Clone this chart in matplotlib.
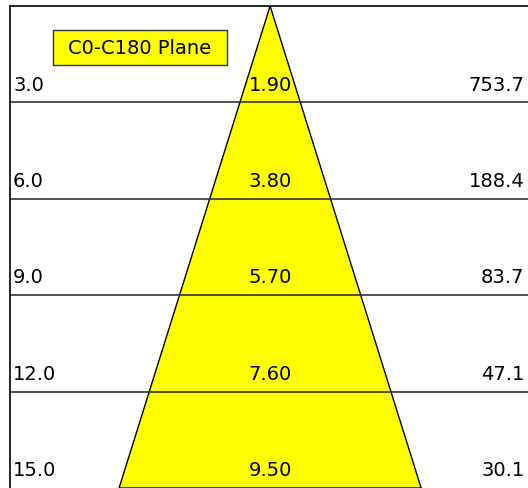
import matplotlib
matplotlib.use('Agg')
import matplotlib.pyplot as plt
import matplotlib.transforms as mtransforms
from matplotlib.patches import Polygon, Rectangle

# distance (m), spot diameter (m), illuminance (lux)
distance = [3.0, 6.0, 9.0, 12.0, 15.0]
diameter = [1.90, 3.80, 5.70, 7.60, 9.50]
lux = [753.7, 188.4, 83.7, 47.1, 30.1]
plane = 'C0-C180 Plane'

W, H = 528, 488
fig = plt.figure(figsize=(W/100, H/100), dpi=100)
ax = fig.add_axes([10/W, 0, 518/W, 482/H])
ax.set_xlim(-8.18, 8.11)
ax.set_ylim(15, 0)

# beam cone from the apex to the last distance
half = diameter[-1] / 2
cone = Polygon([(0, 0), (-half, distance[-1]), (half, distance[-1])],
               closed=True, facecolor='#ffff00', edgecolor='black', lw=1, zorder=1)
ax.add_patch(cone)

for d in distance[:-1]:
    ax.axhline(d, color='#333333', lw=1.2, zorder=2)

trans = mtransforms.blended_transform_factory(ax.transAxes, ax.transData)
fs = 14
for d, dia, lx in zip(distance, diameter, lux):
    yb = d - 0.37
    ax.text(0.006, yb, '%.1f' % d, transform=trans, ha='left', va='baseline', fontsize=fs)
    ax.text(0, yb, '%.2f' % dia, ha='center', va='baseline', fontsize=fs, zorder=3)
    ax.text(0.993, yb, '%.1f' % lx, transform=trans, ha='right', va='baseline', fontsize=fs)

# legend box (figure pixel coords: x 53-227, y 30-65 from top)
fig.patches.append(Rectangle((53/W, 1 - 65/H), 174/W, 35/H, transform=fig.transFigure,
                             facecolor='#ffff00', edgecolor='#333333', lw=1, zorder=5))
fig.text(140/W, 1 - 48/H, plane, ha='center', va='center', fontsize=fs, zorder=6)

ax.set_xticks([])
ax.set_yticks([])
ax.spines['right'].set_visible(False)
ax.spines['bottom'].set_visible(False)
for s in ['left', 'top']:
    ax.spines[s].set_linewidth(1.2)

fig.savefig('out.png', dpi=100)
